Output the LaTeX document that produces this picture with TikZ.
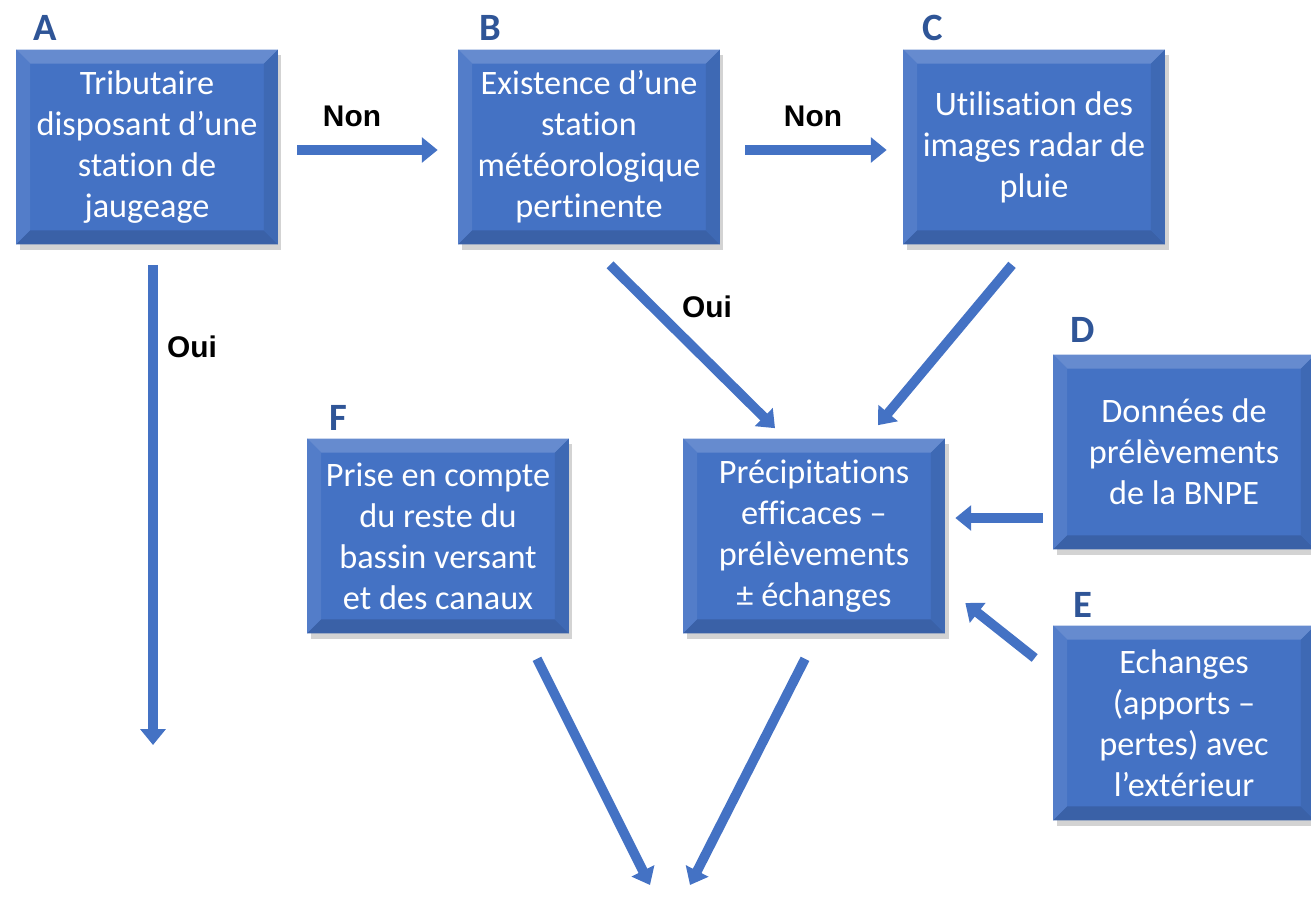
\documentclass[tikz,border=0pt]{standalone}
\usepackage{fontspec}
\setmainfont{Carlito}[RawFeature={-liga;-clig;-calt;-dlig}]
\newfontfamily\arialfont{Liberation Sans}
\usetikzlibrary{arrows.meta,shadows}

\definecolor{bleu}{HTML}{4472C4}
\definecolor{bleulettre}{HTML}{2F5597}

\tikzset{
  bloc/.style={rectangle, fill=bleu, minimum width=5.24cm, minimum height=3.9cm,
    text width=4.9cm, align=flush center, text=white, inner sep=0pt,
    font=\fontsize{19.5}{23.3}\selectfont,
    drop shadow={shadow xshift=2pt, shadow yshift=-3pt, opacity=0.35},
    path picture={
      \fill[bleu!82!white] (path picture bounding box.north west) -- (path picture bounding box.north east)
        -- ([shift={(-8pt,-8pt)}]path picture bounding box.north east) -- ([shift={(8pt,-8pt)}]path picture bounding box.north west) -- cycle;
      \fill[bleu!92!white] (path picture bounding box.north west) -- ([shift={(8pt,-8pt)}]path picture bounding box.north west)
        -- ([shift={(8pt,8pt)}]path picture bounding box.south west) -- (path picture bounding box.south west) -- cycle;
      \fill[bleu!85!black] (path picture bounding box.south west) -- (path picture bounding box.south east)
        -- ([shift={(-8pt,8pt)}]path picture bounding box.south east) -- ([shift={(8pt,8pt)}]path picture bounding box.south west) -- cycle;
      \fill[bleu!92!black] (path picture bounding box.north east) -- ([shift={(-8pt,-8pt)}]path picture bounding box.north east)
        -- ([shift={(-8pt,8pt)}]path picture bounding box.south east) -- (path picture bounding box.south east) -- cycle;
    }},
  lettre/.style={text=bleulettre, font=\fontsize{22}{26}\selectfont\bfseries},
  choix/.style={font=\arialfont\bfseries\fontsize{17}{20}\selectfont},
  fleche/.style={draw=bleu, line width=5.5pt, -{Triangle[length=9pt,width=14pt]}}
}

\begin{document}
\begin{tikzpicture}[x=0.02cm, y=-0.02cm]
    \useasboundingbox (0,0) rectangle (1311,896);

    % Boxes
    \node[bloc] (A) at (147,147) {Tributaire\\ disposant d’une\\ station de\\ jaugeage};
    \node[bloc] (B) at (589,147) {Existence d’une\\ station\\ météorologique\\ pertinente};
    \node[bloc] (C) at (1034,147) {Utilisation des\\ images radar de\\ pluie};
    \node[bloc] (D) at (1184,452) {Données de\\ prélèvements\\ de la BNPE};
    \node[bloc] (E) at (1184,723) {Echanges\\ (apports –\\ pertes) avec\\ l’extérieur};
    \node[bloc] (F) at (438,536) {Prise en compte\\ du reste du\\ bassin versant\\ et des canaux};
    \node[bloc] (P) at (814,536) {Précipitations\\ efficaces –\\ prélèvements\\ ± échanges};

    % Free ends
    \coordinate (finA) at (153,745);
    \coordinate (finF) at (650,885);
    \coordinate (finP) at (690,885);

    % Arrows
    \draw[fleche] ([shift={(19,3)}]A.east) -- ([shift={(-20,3)}]B.west);
    \draw[fleche] ([shift={(25,3)}]B.east) -- ([shift={(-16,3)}]C.west);
    \draw[fleche] ([shift={(6,20)}]A.south) -- (finA);
    \draw[fleche] ([shift={(21,20)}]B.south) -- ([shift={(-39,-10)}]P.north);
    \draw[fleche] ([shift={(-22,20)}]C.south) -- ([shift={(64,-13)}]P.north);
    \draw[fleche] ([shift={(-10,66)}]D.west) -- ([shift={(10,-18)}]P.east);
    \draw[fleche] ([shift={(-18,-65)}]E.west) -- ([shift={(20,67)}]P.east);
    \draw[fleche] ([shift={(99,25)}]F.south) -- (finF);
    \draw[fleche] ([shift={(-9,25)}]P.south) -- (finP);

    % Labels
    \node[lettre] (lA) at (45,28) {A};
    \node[lettre] (lB) at (490,28) {B};
    \node[lettre] (lC) at (933,28) {C};
    \node[lettre] (lD) at (1083,330) {D};
    \node[lettre] (lE) at (1083,605) {E};
    \node[lettre] (lF) at (338,418) {F};
    \node[choix] (non1) at (352,116) {Non};
    \node[choix] (non2) at (813,116) {Non};
    \node[choix] (oui1) at (192,347) {Oui};
    \node[choix] (oui2) at (707,307) {Oui};
\end{tikzpicture}
\end{document}
